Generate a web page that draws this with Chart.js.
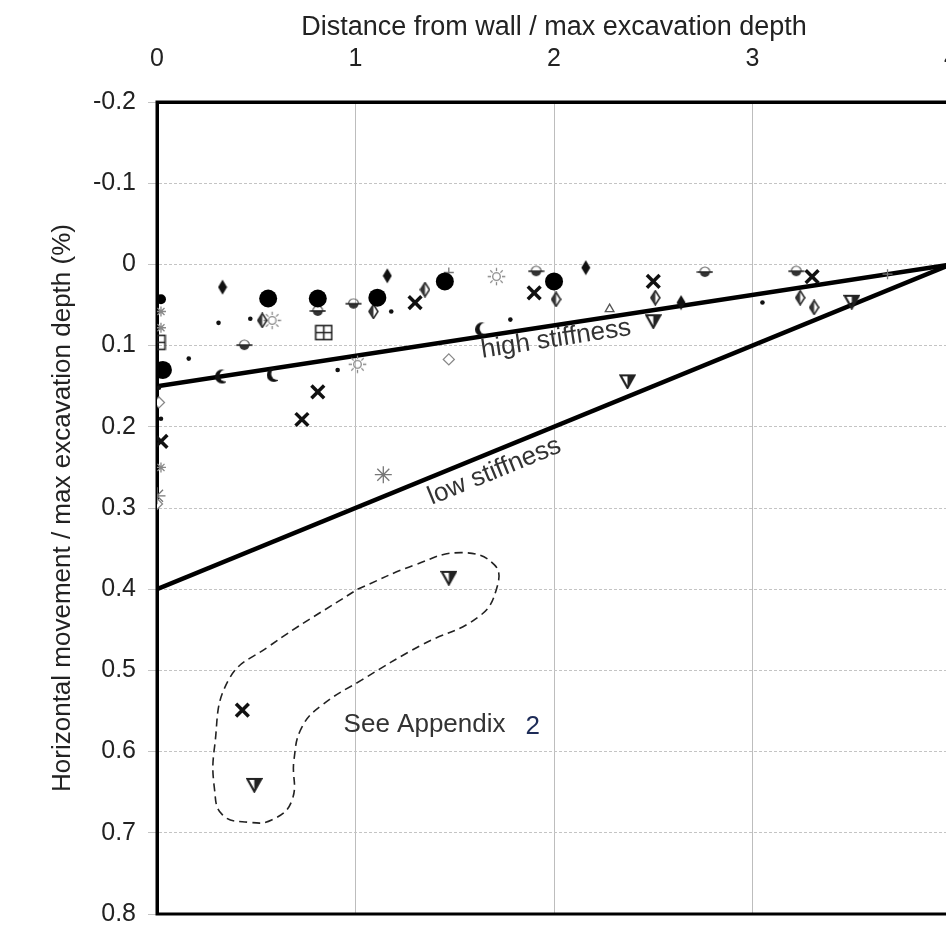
<!DOCTYPE html>
<html>
<head>
<meta charset="utf-8">
<script src="https://cdn.jsdelivr.net/npm/chart.js@4.4.1/dist/chart.umd.min.js"></script>
<style>
  html, body { margin: 0; padding: 0; background: #fff; overflow: hidden; width: 946px; height: 926px; }
  #chart { position: absolute; left: 0; top: 0; }
</style>
</head>
<body>
<canvas id="chart" width="986" height="941"></canvas>
<script>
// ---- data: [distance / depth, movement / depth (%)] ----
var xTicks = [0, 1, 2, 3, 4];
var yTicks = [-0.2, -0.1, 0, 0.1, 0.2, 0.3, 0.4, 0.5, 0.6, 0.7, 0.8];

var bigCircles = [[0.03, 0.13], [0.56, 0.042], [0.81, 0.042], [1.11, 0.041], [1.45, 0.021], [2.0, 0.021]];
var smallCircles = [[0.02, 0.043]];
var crosses = [[1.30, 0.047], [1.90, 0.035], [2.50, 0.021], [3.30, 0.015], [0.81, 0.157], [0.73, 0.191], [0.02, 0.218], [0.43, 0.549]];
var boxes = [[0.0, 0.096], [0.84, 0.084]];
var filledDiamonds = [[0.33, 0.028], [1.16, 0.014], [2.16, 0.004], [2.64, 0.047]];
var halfDiamonds = [[1.35, 0.031], [1.09, 0.058], [2.01, 0.043], [2.51, 0.041], [3.24, 0.041], [3.31, 0.053], [0.53, 0.069]];
var triangles = [[2.50, 0.070], [2.37, 0.144], [3.50, 0.046], [1.47, 0.386], [0.49, 0.641]];
var barCircles = [[0.81, 0.058], [0.99, 0.049], [1.91, 0.009], [2.76, 0.010], [3.22, 0.009], [0.44, 0.100]];
var crescents = [[0.32, 0.138], [0.58, 0.136], [1.63, 0.080]];
var dots = [[0.31, 0.072], [0.47, 0.067], [0.16, 0.116], [0.91, 0.130], [1.18, 0.058], [1.78, 0.068], [3.05, 0.047], [0.01, 0.152], [0.02, 0.190]];
var suns = [[0.58, 0.069], [1.71, 0.015], [1.01, 0.123]];
var smallStars = [[0.02, 0.058], [0.02, 0.078], [0.02, 0.250]];
var asterisks = [[1.14, 0.259], [0.0, 0.285]];
var openDiamonds = [[1.47, 0.117], [0.0, 0.295], [0.01, 0.170]];
var pluses = [[3.68, 0.012], [1.47, 0.010]];
var smallTriangles = [[2.28, 0.055]];

var highStiffness = [[0, 0.15], [4, 0]];
var lowStiffness = [[0, 0.40], [4, 0]];
var appendixLoop = [[1.01, 0.40], [1.30, 0.37], [1.53, 0.355], [1.70, 0.37], [1.71, 0.40], [1.62, 0.434],
  [1.33, 0.469], [1.03, 0.512], [0.83, 0.543], [0.73, 0.57], [0.69, 0.61], [0.68, 0.66], [0.58, 0.684],
  [0.46, 0.687], [0.33, 0.678], [0.29, 0.647], [0.29, 0.594], [0.36, 0.512], [0.56, 0.471], [1.01, 0.40]];

var notes = [
  { text: 'high stiffness', x: 2.01, y: 0.092, along: highStiffness },
  { text: 'low stiffness', x: 1.70, y: 0.255, along: lowStiffness }
];
var appendixNote = { text: 'See Appendix', tail: '2', x: 0.94, y: 0.567 };

var FONT = 'Liberation Sans, Arial, Helvetica, sans-serif';

function pts(arr) {
  return arr.map(function (p) { return { x: p[0], y: p[1] }; });
}

// little canvases used as marker glyphs
function glyph(w, h, draw) {
  var c = document.createElement('canvas');
  c.width = w; c.height = h;
  draw(c.getContext('2d'), w, h);
  return c;
}

var boxGlyph = glyph(19, 17, function (g) {
  g.strokeStyle = '#222'; g.lineWidth = 1.6;
  g.strokeRect(1.5, 1.5, 16, 14);
  g.beginPath(); g.moveTo(9.5, 1.5); g.lineTo(9.5, 15.5); g.moveTo(1.5, 8.5); g.lineTo(17.5, 8.5); g.stroke();
});
var filledDiamondGlyph = glyph(10, 16, function (g) {
  g.fillStyle = '#111';
  g.beginPath(); g.moveTo(5, 0.5); g.lineTo(9.5, 8); g.lineTo(5, 15.5); g.lineTo(0.5, 8); g.closePath(); g.fill();
});
var halfDiamondGlyph = glyph(11, 16, function (g) {
  g.strokeStyle = '#222'; g.lineWidth = 1.5; g.fillStyle = '#333';
  g.beginPath(); g.moveTo(5.5, 1); g.lineTo(10, 8); g.lineTo(5.5, 15); g.lineTo(1, 8); g.closePath(); g.stroke();
  g.beginPath(); g.moveTo(5.5, 1); g.lineTo(5.5, 15); g.lineTo(1, 8); g.closePath(); g.fill();
});
var triangleGlyph = glyph(17, 16, function (g) {
  g.strokeStyle = '#222'; g.lineWidth = 2.2; g.fillStyle = '#222';
  g.beginPath(); g.moveTo(1.5, 2); g.lineTo(15.5, 2); g.lineTo(8.5, 14.5); g.closePath(); g.stroke();
  g.beginPath(); g.moveTo(8.5, 2); g.lineTo(15.5, 2); g.lineTo(8.5, 14.5); g.closePath(); g.fill();
});
var barCircleGlyph = glyph(17, 13, function (g) {
  g.strokeStyle = '#666'; g.lineWidth = 1.2;
  g.beginPath(); g.arc(8.5, 6, 5, Math.PI, 2 * Math.PI); g.stroke();
  g.fillStyle = '#333';
  g.beginPath(); g.arc(8.5, 6, 5, 0, Math.PI); g.closePath(); g.fill();
  g.strokeStyle = '#222'; g.lineWidth = 1.6;
  g.beginPath(); g.moveTo(0.5, 6); g.lineTo(16.5, 6); g.stroke();
});
var crescentGlyph = glyph(11, 16, function (g) {
  g.fillStyle = '#111';
  g.beginPath(); g.arc(7, 8, 7, 0, 2 * Math.PI); g.fill();
  g.globalCompositeOperation = 'destination-out';
  g.beginPath(); g.arc(10.5, 7, 6, 0, 2 * Math.PI); g.fill();
});
var sunGlyph = glyph(19, 19, function (g) {
  g.strokeStyle = '#8a8a8a'; g.lineWidth = 1.3;
  g.beginPath(); g.arc(9.5, 9.5, 3.8, 0, 2 * Math.PI); g.stroke();
  g.beginPath();
  for (var i = 0; i < 8; i++) {
    var a = i * Math.PI / 4;
    g.moveTo(9.5 + Math.cos(a) * 5.5, 9.5 + Math.sin(a) * 5.5);
    g.lineTo(9.5 + Math.cos(a) * 8.8, 9.5 + Math.sin(a) * 8.8);
  }
  g.stroke();
});

function markerSet(data, style, extra) {
  var ds = {
    data: pts(data),
    pointStyle: style,
    pointRadius: 5,
    pointBorderWidth: 1.3,
    pointBorderColor: '#222',
    pointBackgroundColor: '#222',
    showLine: false
  };
  for (var k in extra) ds[k] = extra[k];
  return ds;
}

var frame = {
  id: 'frame',
  beforeDatasetsDraw: function (chart) {
    var a = chart.chartArea, ctx = chart.ctx;
    ctx.save();
    ctx.strokeStyle = '#000';
    ctx.lineWidth = 3;
    ctx.strokeRect(a.left, a.top, a.right - a.left, a.bottom - a.top);
    ctx.restore();
  }
};

var labels = {
  id: 'labels',
  afterDatasetsDraw: function (chart) {
    var sx = chart.scales.x, sy = chart.scales.y, ctx = chart.ctx;
    ctx.save();
    ctx.font = '26px ' + FONT;
    ctx.fillStyle = '#333';
    notes.forEach(function (n) {
      var a = n.along;
      var ang = Math.atan2(sy.getPixelForValue(a[1][1]) - sy.getPixelForValue(a[0][1]),
        sx.getPixelForValue(a[1][0]) - sx.getPixelForValue(a[0][0]));
      ctx.save();
      ctx.translate(sx.getPixelForValue(n.x), sy.getPixelForValue(n.y));
      ctx.rotate(ang);
      ctx.textAlign = 'center';
      ctx.textBaseline = 'middle';
      ctx.fillText(n.text, 0, 0);
      ctx.restore();
    });
    var px = sx.getPixelForValue(appendixNote.x), py = sy.getPixelForValue(appendixNote.y);
    ctx.textAlign = 'left';
    ctx.textBaseline = 'middle';
    ctx.fillText(appendixNote.text, px, py);
    ctx.fillStyle = '#1d2b57';
    ctx.fillText(appendixNote.tail, px + ctx.measureText(appendixNote.text).width + 20, py + 2);
    ctx.restore();
  }
};

new Chart(document.getElementById('chart'), {
  type: 'scatter',
  data: {
    datasets: [
      markerSet(bigCircles, 'circle', { pointRadius: 9, pointBorderWidth: 0, pointBackgroundColor: '#000' }),
      markerSet(smallCircles, 'circle', { pointRadius: 5, pointBorderWidth: 0, pointBackgroundColor: '#000' }),
      markerSet(crosses, 'crossRot', { pointRadius: 9, pointBorderWidth: 3.5, pointBorderColor: '#111' }),
      markerSet(boxes, boxGlyph),
      markerSet(filledDiamonds, filledDiamondGlyph),
      markerSet(halfDiamonds, halfDiamondGlyph),
      markerSet(triangles, triangleGlyph),
      markerSet(barCircles, barCircleGlyph),
      markerSet(crescents, crescentGlyph),
      markerSet(dots, 'circle', { pointRadius: 2.3, pointBorderWidth: 0, pointBackgroundColor: '#111' }),
      markerSet(suns, sunGlyph),
      markerSet(smallStars, 'star', { pointRadius: 5, pointBorderColor: '#888' }),
      markerSet(asterisks, 'star', { pointRadius: 8.5, pointBorderWidth: 1.3, pointBorderColor: '#777' }),
      markerSet(openDiamonds, 'rectRot', { pointRadius: 5.5, pointBorderColor: '#888', pointBackgroundColor: '#fff' }),
      markerSet(pluses, 'cross', { pointRadius: 5, pointBorderColor: '#777' }),
      markerSet(smallTriangles, 'triangle', { pointRadius: 5, pointBorderColor: '#555', pointBackgroundColor: '#fff' }),
      {
        data: pts(appendixLoop), showLine: true, pointRadius: 0,
        borderColor: '#222', borderWidth: 1.6, borderDash: [8, 5], tension: 0.45, fill: false
      },
      { data: pts(highStiffness), showLine: true, pointRadius: 0, borderColor: '#000', borderWidth: 4.5 },
      { data: pts(lowStiffness), showLine: true, pointRadius: 0, borderColor: '#000', borderWidth: 4.5 }
    ]
  },
  options: {
    responsive: false,
    animation: false,
    events: [],
    layout: { padding: { left: 0, top: 0, right: 10, bottom: 13 } },
    plugins: { legend: { display: false }, tooltip: { enabled: false } },
    scales: {
      x: {
        type: 'linear', position: 'top', min: 0, max: 4,
        afterFit: function (s) { s.height = 102; },
        afterBuildTicks: function (s) { s.ticks = xTicks.map(function (v) { return { value: v }; }); },
        ticks: { padding: 28, color: '#222', font: { family: FONT, size: 25 } },
        grid: { color: '#bdbdbd', lineWidth: 1, drawTicks: false },
        border: { display: true, color: '#000', width: 3 },
        title: {
          display: true, text: 'Distance from wall / max excavation depth',
          color: '#222', font: { family: FONT, size: 27 }, padding: { top: 11, bottom: 0 }
        }
      },
      y: {
        type: 'linear', position: 'left', reverse: true, min: -0.2, max: 0.8,
        afterFit: function (s) { s.width = 157; },
        afterBuildTicks: function (s) { s.ticks = yTicks.map(function (v) { return { value: v }; }); },
        ticks: {
          padding: 12, color: '#222', font: { family: FONT, size: 25 },
          callback: function (v) { return String(Number(v.toFixed(1))); }
        },
        grid: { color: '#c4c4c4', lineWidth: 1, tickLength: 9 },
        border: { display: true, color: '#000', width: 3, dash: [3, 2] },
        title: {
          display: true, text: 'Horizontal movement / max excavation depth (%)',
          color: '#222', font: { family: FONT, size: 26 }, padding: { top: 47, bottom: 0 }
        }
      }
    }
  },
  plugins: [frame, labels]
});
</script>
</body>
</html>
